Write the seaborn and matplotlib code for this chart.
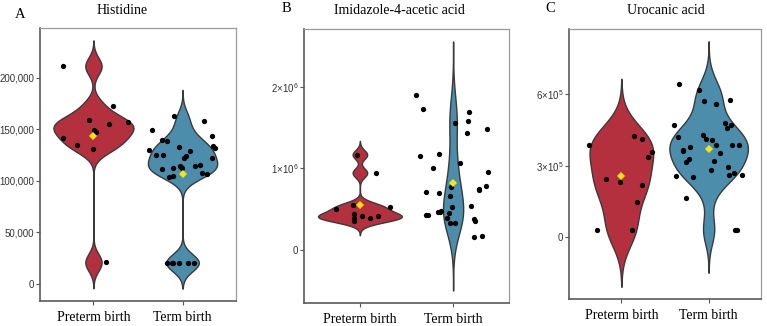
import numpy as np
import pandas as pd
import matplotlib
matplotlib.use("Agg")
import matplotlib.pyplot as plt
import seaborn as sns

# ---------------- data ----------------
groups = ["Preterm birth", "Term birth"]
titles = ["Histidine", "Imidazole-4-acetic acid", "Urocanic acid"]
letters = ["A", "B", "C"]

histidine_preterm = [211000, 172000, 159000, 155000, 157000, 147000, 149000,
                     141000, 135000, 131000, 21000]
histidine_term = [157700, 163000, 149000, 138600, 143000, 139500, 132800, 134000,
                  130000, 129000, 132000, 124700, 124000, 121800, 125400, 121800,
                  115000, 114700, 114000, 111000, 112000, 112000, 113000, 104600,
                  107000, 108000, 103700, 20700, 20700, 20700, 20700, 20700, 20700]

imidazole_preterm = [1170000, 946000, 550000, 526000, 506000, 411000, 349000,
                     436000, 390000, 415000, 395000]
imidazole_term = [1901000, 1728000, 1695000, 1563000, 1584000, 1485000, 1436000,
                  1156000, 1180000, 1062000, 1012000, 954000, 785000, 753000,
                  778000, 736000, 716000, 699000, 658000, 543000, 522000, 423000,
                  481000, 460000, 464000, 423000, 390000, 452000, 374000, 349000,
                  333000, 333000, 160000, 173000]

urocanic_preterm = [426700, 414000, 359600, 389000, 335700, 245000, 229500,
                    218000, 146900, 29400, 29400]
urocanic_term = [645000, 618500, 577800, 572000, 561000, 480000, 470000, 460000,
                 470000, 429700, 411000, 419600, 408700, 387700, 389000, 389000,
                 368000, 377600, 355400, 360900, 329000, 319000, 316000, 295000,
                 268500, 254700, 281000, 259000, 260000, 250500, 165000, 28000, 28000]

ytick_values = [[0, 50000, 100000, 150000, 200000],
                [0, 1000000, 2000000],
                [0, 300000, 600000]]
ytick_labels = [["0", "50,000", "100,000", "150,000", "200,000"],
                ["0", r"$\mathregular{1{\times}10^{6}}$", r"$\mathregular{2{\times}10^{6}}$"],
                ["0", r"$\mathregular{3{\times}10^{5}}$", r"$\mathregular{6{\times}10^{5}}$"]]

series = [(histidine_preterm, histidine_term),
          (imidazole_preterm, imidazole_term),
          (urocanic_preterm, urocanic_term)]

# ---------------- style ----------------
sns.set_theme(style="white")
plt.rcParams["mathtext.fontset"] = "custom"
plt.rcParams["mathtext.rm"] = "Liberation Sans"
plt.rcParams["font.family"] = ["Liberation Sans", "DejaVu Sans"]

colors = ["#B5303F", "#4C8DAC"]


def nrd0(kde):
    """R's bw.nrd0 expressed as a gaussian_kde factor."""
    x = np.asarray(kde.dataset).ravel()
    sd = x.std(ddof=1)
    q75, q25 = np.percentile(x, [75, 25])
    lo = min(sd, (q75 - q25) / 1.34)
    bw = 0.9 * lo * len(x) ** -0.2
    return bw / sd


W, H = 767, 326
fig = plt.figure(figsize=(W / 100, H / 100), dpi=100)

# axes boxes in pixels: left, right, top, bottom
boxes = [(40, 236, 28, 301), (304, 509, 29, 303), (569, 761, 29, 299)]
title_x = [122, 399, 666]
letter_pos = [(20, 15), (286, 8), (550, 8)]

np.random.seed(7)
for i, ((pre, term), box) in enumerate(zip(series, boxes)):
    l, r, t, b = box
    ax = fig.add_axes([l / W, 1 - b / H, (r - l) / W, (b - t) / H])
    df = pd.DataFrame({"group": [groups[0]] * len(pre) + [groups[1]] * len(term),
                       "value": list(pre) + list(term)})
    sns.violinplot(data=df, x="group", y="value", hue="group", order=groups,
                   hue_order=groups, palette=colors, inner=None, cut=3,
                   bw_method=nrd0, density_norm="area", common_norm=True,
                   width=0.9, linewidth=1.0, linecolor="#3a3a3a", saturation=1,
                   legend=False, ax=ax)
    sns.stripplot(data=df, x="group", y="value", order=groups, color="black",
                  jitter=0.4, size=3.8, linewidth=0, ax=ax, zorder=3)
    sns.pointplot(data=df, x="group", y="value", order=groups, estimator="mean",
                  errorbar=None, markers="D", linestyle="none", color="#FFE600",
                  markersize=4.2, markeredgewidth=0, ax=ax, zorder=4)
    ax.set_xlim(-0.6, 1.6)
    ax.set_xlabel("")
    ax.set_ylabel("")
    ax.set_yticks(ytick_values[i])
    ax.set_yticklabels(ytick_labels[i], fontsize=7, color="#333333",
                       fontfamily="Liberation Sans")
    ax.set_xticks([0, 1])
    ax.set_xticklabels(groups, fontsize=10, color="black",
                       fontfamily="Liberation Serif")
    ax.tick_params(axis="y", left=True, length=3, width=0.8, color="#555555", pad=1)
    ax.tick_params(axis="x", bottom=True, length=3, width=0.8, color="#555555", pad=4.5)
    for side in ["left", "bottom"]:
        ax.spines[side].set_color("#5a5a5a")
        ax.spines[side].set_linewidth(1.2)
    for side in ["top", "right"]:
        ax.spines[side].set_color("#9a9a9a")
        ax.spines[side].set_linewidth(0.9)
    ax.grid(False)

    fig.text(title_x[i] / W, 1 - 11 / H, titles[i], ha="center", va="center",
             fontsize=10, fontfamily="Liberation Serif", color="black")
    lx, ly = letter_pos[i]
    fig.text(lx / W, 1 - ly / H, letters[i], ha="center", va="center",
             fontsize=10.5, fontfamily="Liberation Serif", color="black")

fig.savefig("out.png", dpi=100, facecolor="white")
